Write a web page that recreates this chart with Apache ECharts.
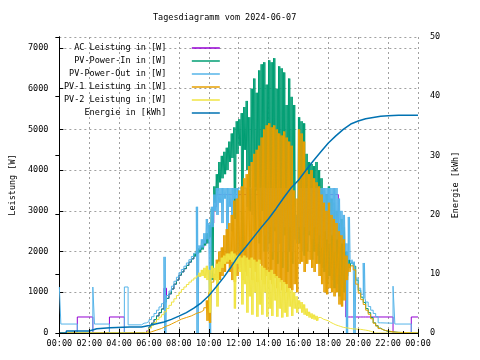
<!DOCTYPE html>
<html><head><meta charset="utf-8">
<script src="https://cdn.jsdelivr.net/npm/echarts/dist/echarts.min.js"></script>
<style>html,body{margin:0;padding:0;background:#fff}#c{width:480px;height:360px}</style>
</head><body><div id="c"></div>
<script>
// time in hours; day buckets every 10 minutes from 05:30 to 21:30
// a pair [hi, lo] means the value swung between hi and lo within the bucket
const dayStart = 5.5;
const dayStep = 1 / 6;

const acPre = [[0, 0], [1.2, 393], [2.24, 0], [3.35, 393], [4.35, 0]];
const acDay = [0, 0, 50, 150, 240, 330, 420, 500, 590, 1100, 850, 960, 1080, 1200, 1300, 1420, 1500, 1580, 1660, 1740,
  1820, 1900, 1980, 2050, 2100, 2200, 2300, 2400, 2700, 3100,
  3400, 3400, 3400, 3400, 3400, 3400, 3400, 3400, 3400, 3400, 3400, 3400, 3400, 3400, 3400, 3400, 3400, 3400, 3400, 3400,
  3400, 3400, 3400, 3400, 3400, 3400, 3400, 3400, 3400, 3400, 3400, 2800, 2600, 3400, 3400, 3400, 3400, 3400, 3400, 3400,
  3400, 3400, 3400, 3400, 3400, 3400, 3400, 3400, 3400,
  2100, 2200, 2000, 393, 393, 393, 393, 393, 393, 393, 393, 393, 393, 393, 393, 393];
const acPost = [[22.33, 0], [23.55, 393], [24, 393]];

const pvInPre = [[0, 0]];
const pvInDay = [0, 20, 60, 150, 240, 330, 420, 500, 590, 760, 850, 960, 1080, 1200, 1300, 1420, 1500, 1580, 1660, 1740, 1820,
  [1950, 1880], [2020, 1950], [2080, 1980], [2150, 2050], [2280, 2150], [2450, 2200], [2650, 2350], [3050, 1300], [3600, 3200],
  [3900, 3500], [4200, 3700], [4350, 3800], [4450, 3900], [4550, 4000], [4700, 4200], [4900, 4300], [5050, 2800], [5200, 4400],
  [5250, 4600], [5400, 2000], [5550, 4500], [5700, 4000], [5300, 3000], [6000, 4200], [6250, 2500], [5900, 3500], [6450, 2200],
  [6600, 3000], [6650, 2000], [6100, 3500], [6700, 2200], [6650, 1800], [6750, 2500], [6000, 1700], [6550, 2200], [6500, 1600],
  [6400, 2400], [5600, 1500], [6250, 2000], [5800, 1700], [5600, 2600], [2900, 2300], [5300, 2200], [5200, 2400], [5150, 1900],
  [4400, 2000], [4200, 2400], [4150, 1800], [4100, 2000], [4200, 1900], [4000, 1700], [3800, 1600], [3500, 1500], [3400, 1200],
  [3600, 1400], [3300, 1300], [3200, 1100], [3000, 1200], [2700, 900], [2800, 800], [2600, 1000], [2000, 1400], [1800, 1600],
  1720, 1640, 1300, 1050, 880, 750, 600, 500, 380, 250, 180, 120, 80];
const pvInPost = [[21.67, 60], [21.83, 40], [22.0, 30], [22.33, 15], [22.67, 0], [24, 0]];

const pvOutPre = [[0, 1130], [0.1, 220], [1.2, 0], [2.24, 1130], [2.35, 220], [3.35, 0], [4.35, 1130], [4.6, 200]];
const pvOutDay = [240, 250, 280, 330, 400, 480, 560, 640, 720, [1870, 0], 920, 1030, 1150, 1270, 1370, 1480, 1560, 1640, 1720,
  1800, 1880, 1960, [3100, 0], [2150, 2050], [2300, 2100], [2450, 2200], [2800, 2300], [2700, 0], [3100, 2600], [3400, 3000],
  [3560, 2900], [3560, 3200], [3560, 2700], [3560, 3300], [3560, 1900], [3560, 3100], [3560, 2500], [3560, 3300], [3560, 2000],
  3560, [3560, 3000], 3560, [3560, 3100], 3560, [3560, 2900], 3560, 3560, [3560, 2800], 3560, [3560, 2400],
  [3560, 2000], [3560, 2600], [3560, 2000], [3560, 2600], [3560, 2000], [3560, 2200], [3560, 2000], [3560, 2600], [3560, 2000],
  [3560, 2600], [3560, 2000], [3100, 2300], [2900, 2200], [3560, 2600], [3560, 2000], [3560, 2600], [3560, 2200], [3560, 2500],
  [3560, 2300], [3560, 2600], [3560, 2200], [3560, 2400], [3560, 2100], [3560, 2500], [3560, 2300], [3560, 2200], [3560, 2400],
  [3560, 2000], [3560, 2300], [3300, 2100], [3000, 2200], [2900, 2000], [2200, 0], [2850, 1800], [1800, 1700], [1750, 0],
  1350, 1100, 950, [1720, 850], 760, 650, 560, 480, 400, 250, 240];
const pvOutPost = [[22.33, 1150], [22.45, 220], [23.55, 0], [24, 0]];

const pv1Pre = [[0, 0]];
const pv1Day = [0, 0, 10, 30, 50, 70, 90, 110, 140, 170, 190, 220, 250, 280, 310, 340, 360, 380, 400, 420, 450, 480, 500, 520,
  560, 620, [800, 300], [1000, 250], 1250, [1450, 1300], [1800, 1350], [2000, 1300], [2100, 1400], [2400, 1500], [2550, 1700],
  [2700, 1500], [2900, 1300], [3250, 1250], [3300, 1400], [3500, 1600], [3600, 1300], [3800, 1500], [3900, 1400], [4100, 1600],
  [4200, 1300], [4400, 1500], [4500, 1250], [4600, 1700], [4800, 1300], [5000, 1200], [5100, 1400], [5150, 1300], [5050, 1200],
  [5100, 1350], [5000, 1100], [4900, 1250], [4850, 1050], [4950, 1200], [4800, 1000], [4700, 1100], [4600, 1050], [3500, 1200],
  [3300, 1000], [5000, 1700], [4900, 1750], [4700, 1500], [4000, 1700], [3900, 1800], [4000, 1600], [3800, 1500], [3700, 1700],
  [3600, 1400], [3400, 1200], [3200, 1000], [3000, 950], [3200, 1100], [2900, 1000], [2800, 900], [2700, 1000], [2500, 700],
  [2400, 650], [2300, 800], [1900, 1300], [1700, 1500], 1650, 1550, 1200, 980, 820, 700, 560, 460, 350, 240, 170, 110, 80];
const pv1Post = [[21.67, 60], [21.83, 50], [22.0, 40], [22.17, 30], [22.33, 20], [22.5, 10], [22.6, 0], [24, 0]];

const pv2Pre = [[0, 0]];
const pv2Day = [0, 20, 60, 120, 190, 260, 330, 390, 450, 520, 600, 680, 760, 840, 920, 1000, 1070, 1130, 1190, 1250, 1300,
  1350, 1400, [1480, 1380], [1550, 1400], [1600, 1350], [1650, 1300], [1550, 500], [1650, 1350], [1600, 1300], [1700, 650],
  [1750, 1500], [1850, 1600], [1900, 1700], [1950, 1750], [1950, 1800], [2000, 1750], [1950, 600], [1900, 1700], [1900, 1500],
  [1850, 700], [1900, 1200], [1850, 500], [1800, 900], [1850, 450], [1800, 1000], [1750, 400], [1800, 700], [1650, 450],
  [1600, 1000], [1550, 400], [1500, 600], [1550, 420], [1450, 800], [1400, 400], [1350, 600], [1300, 380], [1250, 500],
  [1200, 400], [1100, 650], [1050, 420], [1000, 600], [900, 500], [800, 600], [760, 500], [700, 450], [600, 420], [520, 380],
  [480, 350], [450, 330], [420, 300], 380, 340, 320, 300, 260, 230, 200, 180, 160, 140, 130, 120, 110, 100, 100, 90, 90, 80,
  70, 60, 40, 20, 0, 0, 0, 0];
const pv2Post = [[24, 0]];

const energy = [[0, 0], [0.45, 0], [0.47, 0.34], [2.0, 0.34], [2.05, 0.62], [2.5, 0.73], [3.4, 0.9], [4.7, 1.0], [5.5, 1.0],
  [6, 1.25], [6.5, 1.55], [7, 1.85], [7.5, 2.3], [8, 2.85], [8.5, 3.45], [9, 4.2], [9.5, 5.1], [10, 6.3], [10.5, 7.8],
  [11, 9.4], [11.5, 11.2], [12, 13.1], [12.5, 14.6], [13, 16.2], [13.5, 17.8], [14, 19.3], [14.5, 21.0], [15, 22.8],
  [15.5, 24.5], [16, 25.8], [16.5, 27.5], [17, 29.1], [17.5, 30.6], [18, 32.1], [18.5, 33.3], [19, 34.4], [19.5, 35.3],
  [20, 35.8], [20.5, 36.2], [21, 36.4], [21.5, 36.6], [22, 36.7], [22.7, 36.8], [24, 36.8]];

// a swinging bucket is drawn as hi/lo/hi/lo within its 10 minutes (the raw data flickers faster than the bucket)
function build(pre, day, post) {
  const out = pre.map(p => p.slice());
  day.forEach((v, i) => {
    const t = dayStart + i * dayStep;
    if (Array.isArray(v)) {
      for (let k = 0; k < 4; k++) out.push([t + k * dayStep / 4, v[k % 2]]);
    } else out.push([t, v]);
  });
  post.forEach(p => out.push(p.slice()));
  return out;
}

const FONT = 'DejaVu Sans Mono';
const FS = 8.5;
const txt = { fontFamily: FONT, fontSize: FS, color: '#000' };
const gridLine = { show: true, lineStyle: { color: '#a0a0a0', type: [2, 3], width: 1 } };
const blackLine = { show: true, lineStyle: { color: '#000', width: 1 } };
const tick = { show: true, inside: true, length: 4, lineStyle: { color: '#000' } };

function line(name, color, data, width, yIdx, step) {
  return {
    name, type: 'line', data, yAxisIndex: yIdx || 0, xAxisIndex: 0,
    step: step === false ? false : 'end', symbol: 'none', showSymbol: false,
    lineStyle: { color, width }, itemStyle: { color }, animation: false, silent: true
  };
}

const names = ['AC Leistung in [W]', 'PV-Power-In in [W]', 'PV-Power-Out in [W]',
  'PV-1 Leistung in [W]', 'PV-2 Leistung in [W]', 'Energie in [kWh]'];

const chart = echarts.init(document.getElementById('c'), null, { renderer: 'canvas' });
chart.setOption({
  animation: false,
  backgroundColor: '#fff',
  title: { text: 'Tagesdiagramm vom 2024-06-07', left: 153, top: 13, padding: 0,
    textStyle: Object.assign({ fontWeight: 'normal' }, txt) },
  legend: {
    orient: 'vertical', left: 64, top: 43, padding: 0, align: 'right',
    itemWidth: 28, itemHeight: 1.5, itemGap: 3, selectedMode: false, icon: 'rect',
    textStyle: Object.assign({ lineHeight: 10 }, txt),
    data: names,
    formatter: n => n.padStart(20, ' ') + '    '
  },
  grid: { left: 58, right: 62, top: 37, bottom: 27, containLabel: false },
  xAxis: [
    { type: 'value', position: 'bottom', min: 0, max: 24, interval: 2, z: 5,
      axisLine: blackLine, axisTick: tick,
      minorTick: { show: true, splitNumber: 2, length: 2, lineStyle: { color: '#000' } },
      axisLabel: Object.assign({ margin: 6, formatter: v => String(v % 24).padStart(2, '0') + ':00' }, txt),
      splitLine: { show: false } },
    { type: 'value', position: 'top', min: 0, max: 24, interval: 2, z: 0,
      axisLine: blackLine, axisTick: tick,
      axisLabel: { show: false }, splitLine: gridLine }
  ],
  yAxis: [
    { type: 'value', position: 'left', min: 0, max: 7270, interval: 1000,
      name: 'Leistung [W]', nameLocation: 'middle', nameGap: 42, nameRotate: 90, nameTextStyle: txt,
      axisLine: blackLine, axisTick: tick,
      axisLabel: Object.assign({ margin: 11, showMaxLabel: false, formatter: v => String(v) }, txt),
      splitLine: gridLine },
    { type: 'value', position: 'right', min: 0, max: 50, interval: 10,
      name: 'Energie [kWh]', nameLocation: 'middle', nameGap: 31, nameRotate: 90, nameTextStyle: txt,
      axisLine: blackLine, axisTick: tick,
      axisLabel: Object.assign({ margin: 12, formatter: v => String(v) }, txt),
      splitLine: { show: false } }
  ],
  series: [
    line(names[0], '#9400d3', build(acPre, acDay, acPost), 1),
    line(names[1], '#009e73', build(pvInPre, pvInDay, pvInPost), 1),
    line(names[2], '#56b4e9', build(pvOutPre, pvOutDay, pvOutPost), 1),
    line(names[3], '#e69f00', build(pv1Pre, pv1Day, pv1Post), 1),
    line(names[4], '#f0e442', build(pv2Pre, pv2Day, pv2Post), 1),
    line(names[5], '#0072b2', energy, 1.5, 1, false)
  ]
});
</script></body></html>
